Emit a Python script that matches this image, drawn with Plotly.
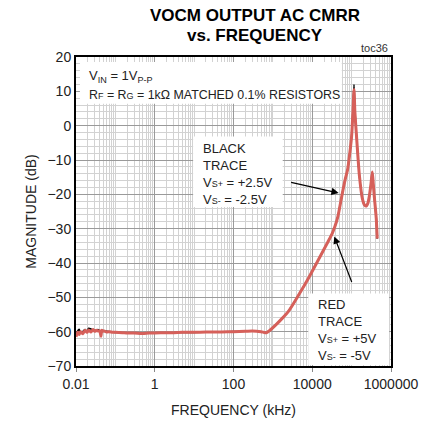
import plotly.graph_objects as go

# Frequency points (kHz) and measured CMRR magnitude (dB)
freq_khz = [0.01, 0.011, 0.012, 0.013, 0.015, 0.017, 0.019, 0.021, 0.024, 0.027,
            0.03, 0.033, 0.036, 0.04, 0.043, 0.045, 0.048, 0.052, 0.06, 0.07,
            0.085, 0.1, 0.15, 0.2, 0.3, 0.5, 0.7, 1, 2, 3,
            5, 10, 20, 50, 100, 200, 300, 500, 600, 670,
            800, 1190, 1700, 2510, 4470, 7940, 14100, 25100, 31600, 37600,
            44700, 50100, 56200, 63100, 70800, 79400, 92000, 100000, 108000, 115000,
            121000, 133000, 158000, 188000, 215000, 237000, 260000, 282000, 310000, 335000,
            355000, 376000, 422000, 447000]

red_db = [-61.5, -60.2, -60.8, -60.0, -60.6, -59.6, -60.2, -59.5, -60.1, -59.4,
          -59.9, -59.6, -59.8, -59.7, -61.3, -59.6, -59.9, -59.8, -60.1, -60.0,
          -60.2, -60.2, -60.3, -60.4, -60.4, -60.5, -60.4, -60.4, -60.3, -60.3,
          -60.2, -60.2, -60.1, -60.1, -60.0, -59.9, -59.8, -60.0, -60.2, -60.3,
          -59.8, -58.0, -56.2, -54.0, -49.4, -44.5, -39.2, -33.8, -31.6, -29.4,
          -26.5, -23.6, -20.6, -17.6, -15.0, -12.7, -7.0, -3.0, 4.0, 10.5,
          4.0, -3.0, -14.7, -21.3, -23.2, -23.4, -22.5, -20.5, -17.0, -13.5,
          -17.0, -20.5, -27.0, -32.9]

black_db = [-61.0, -59.8, -59.3, -60.2, -59.9, -59.4, -59.9, -59.0, -59.2, -59.6,
            -59.5, -59.9, -59.4, -59.8, -60.8, -59.9, -59.6, -59.9, -59.9, -60.0,
            -60.1, -60.2, -60.3, -60.4, -60.4, -60.5, -60.4, -60.4, -60.3, -60.3,
            -60.2, -60.2, -60.1, -60.1, -60.0, -59.9, -59.8, -60.0, -60.2, -60.3,
            -59.8, -58.0, -56.2, -54.0, -49.4, -44.5, -39.2, -33.8, -31.6, -29.4,
            -26.5, -23.6, -20.6, -17.6, -15.0, -12.7, -7.0, -3.0, 4.5, 12.0,
            4.5, -3.0, -14.7, -21.3, -23.2, -23.4, -22.5, -20.5, -17.0, -13.5,
            -17.0, -20.5, -27.0, -32.9]

x_tickvals = [0.01, 1, 100, 10000, 1000000]
x_ticktext = ["0.01", "1", "100", "10000", "1000000"]
y_tickvals = [20, 10, 0, -10, -20, -30, -40, -50, -60, -70]

FONT = "Liberation Sans, Arial, sans-serif"
RED = "#D6605A"
TXT = "#222"

# minor vertical grid: 2..9 of every decade plus the unlabeled decades
minor_x = []
for e in range(-2, 6):
    for m in range(1, 10):
        v = m * 10 ** e
        if m == 1 and v in x_tickvals:
            continue
        minor_x.append(v)

fig = go.Figure()
fig.add_trace(go.Scatter(x=freq_khz, y=black_db, mode="lines",
                         line=dict(color="black", width=1.6, shape="spline", smoothing=0.6),
                         hoverinfo="skip"))
fig.add_trace(go.Scatter(x=freq_khz, y=red_db, mode="lines",
                         line=dict(color=RED, width=3, shape="spline", smoothing=0.6),
                         hoverinfo="skip"))

fig.update_layout(
    width=430, height=428,
    margin=dict(l=76, r=34, t=57, b=60),
    paper_bgcolor="white", plot_bgcolor="white",
    showlegend=False,
    font=dict(family=FONT, color=TXT, size=14),
)

fig.update_xaxes(
    type="log", range=[-2, 6],
    tickvals=x_tickvals, ticktext=x_ticktext,
    ticks="outside", ticklen=4, tickcolor="#888",
    showgrid=True, gridcolor="#9a9a9a", gridwidth=1,
    minor=dict(tickvals=minor_x, showgrid=True, gridcolor="#d2d2d2", gridwidth=1, ticks=""),
    showline=True, linecolor="black", linewidth=2, mirror=True,
    tickfont=dict(size=14, family=FONT),
    title=dict(text="FREQUENCY (kHz)", font=dict(size=14, family=FONT), standoff=14),
    zeroline=False,
)
fig.update_yaxes(
    range=[-70, 20], tickvals=y_tickvals,
    ticks="", showgrid=True, gridcolor="#9a9a9a", gridwidth=1,
    minor=dict(dtick=2, showgrid=True, gridcolor="#d2d2d2", gridwidth=1),
    showline=True, linecolor="black", linewidth=2, mirror=True,
    tickfont=dict(size=14, family=FONT),
    title=dict(text="MAGNITUDE (dB)", font=dict(size=14, family=FONT), standoff=8),
    zeroline=False,
)

W, H = 320.0, 311.0
def px(x):
    return (x - 76) / W
def py(y):
    return (368 - y) / H

sm = "<span style='font-size:9px'>"

# title and figure tag
fig.add_annotation(xref="paper", yref="paper", x=px(258), y=py(15), yanchor="middle",
                   text="<b>VOCM OUTPUT AC CMRR</b>", showarrow=False,
                   font=dict(size=17, family=FONT, color="black"))
fig.add_annotation(xref="paper", yref="paper", x=px(258), y=py(35), yanchor="middle",
                   text="<b>vs. FREQUENCY</b>", showarrow=False,
                   font=dict(size=17, family=FONT, color="black"))
fig.add_annotation(xref="paper", yref="paper", x=px(395), y=py(48), xanchor="right",
                   yanchor="middle", text="toc36", showarrow=False,
                   font=dict(size=11, family=FONT, color="#333"))

# white panels behind the notes
for x0, y0, x1, y1 in [(80, 62, 346, 104), (195, 137, 286, 208), (312, 295, 394, 367)]:
    fig.add_shape(type="rect", xref="paper", yref="paper",
                  x0=px(x0), x1=px(x1), y0=py(y1), y1=py(y0),
                  fillcolor="white", line=dict(width=0), layer="above")

def note(x, y, text, size=13):
    fig.add_annotation(xref="paper", yref="paper", x=px(x), y=py(y), xanchor="left",
                       yanchor="middle", align="left", showarrow=False, text=text,
                       font=dict(size=size, family=FONT, color=TXT))

note(87, 77, "V<sub>IN</sub> = 1V<sub>P-P</sub>")
note(87, 95, "R" + sm + "F</span> = R" + sm + "G</span> = 1kΩ MATCHED 0.1% RESISTORS", size=12.4)
note(203, 175, "BLACK<br>TRACE<br>V" + sm + "S+</span> = +2.5V<br>V" + sm + "S-</span> = -2.5V")
note(320, 332, "RED<br>TRACE<br>V" + sm + "S+</span> = +5V<br>V" + sm + "S-</span> = -5V")

# pointer arrows
fig.add_annotation(x=4.67, y=-19.6, xref="x", yref="y", ax=-49, ay=-11,
                   showarrow=True, arrowhead=2, arrowsize=1.2, arrowwidth=1.2,
                   arrowcolor="black", text="")
fig.add_annotation(x=4.56, y=-32.3, xref="x", yref="y", ax=18, ay=47,
                   showarrow=True, arrowhead=2, arrowsize=1.2, arrowwidth=1.2,
                   arrowcolor="black", text="")

fig.write_html("out.html")
